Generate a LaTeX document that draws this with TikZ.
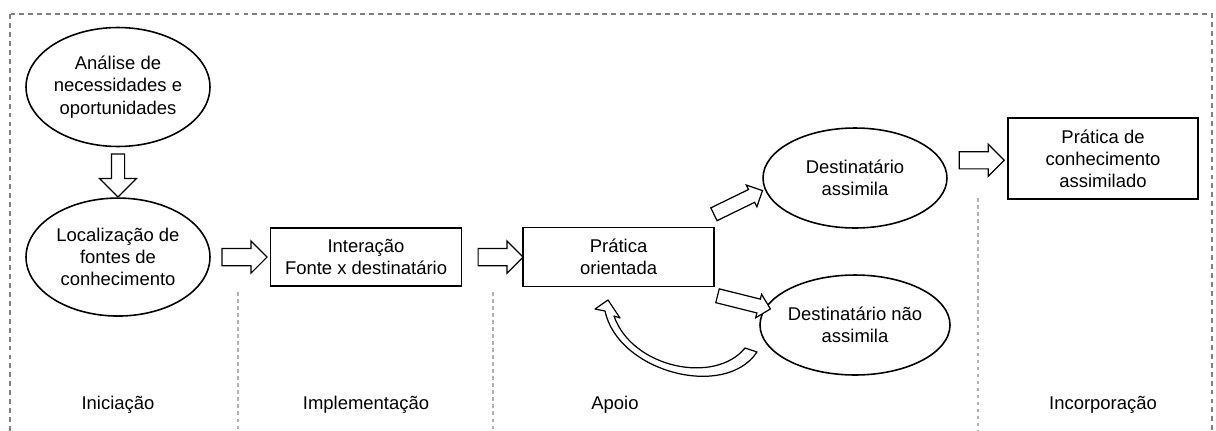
\documentclass[tikz,border=0pt]{standalone}
\usepackage{fontspec}
\setmainfont{Liberation Sans}
\usetikzlibrary{positioning,calc,shapes.geometric,shapes.arrows}

\begin{document}
\begin{tikzpicture}[x=0.02cm, y=-0.02cm, node distance=1cm,
    every node/.style={font=\fontsize{10.5pt}{12.6pt}\selectfont, align=center},
    stage/.style={draw, ellipse, line width=0.9pt, inner sep=0pt, minimum width=3.68cm},
    task/.style={draw, rectangle, line width=0.9pt, minimum width=3.82cm},
    blockarr/.style={draw, fill=white, single arrow, line width=0.7pt, inner sep=0.16cm,
      minimum height=0.9cm, single arrow head extend=0.15cm},
    sep/.style={draw=black!30, dash pattern=on 2pt off 2pt, line width=0.6pt}]
    \useasboundingbox (0,0) rectangle (1216,430);
    % outer frame
    \draw[draw=black!50, dash pattern=on 2.8pt off 2.3pt, line width=0.75pt] (10,14) rectangle (1212,450);

    \node[stage, minimum height=2.38cm] (analise) at (118,87) {An\'alise de\\necessidades e\\oportunidades};
    \node[stage, minimum height=2.36cm, below=1cm of analise] (local) {Localiza\c{c}\~ao de\\fontes de\\conhecimento};
    \node[task, minimum height=1.16cm, right=1.18cm of local] (interacao) {Intera\c{c}\~ao\\Fonte x destinat\'ario};
    \node[task, minimum height=1.18cm, right=1.2cm of interacao] (pratica) {Pr\'atica\\orientada};
    \node[stage, minimum height=2cm] (assimila) at (855,178) {Destinat\'ario\\assimila};
    \node[stage, minimum height=2cm] (naoassim) at (855,325) {Destinat\'ario n\~ao\\assimila};
    \node[task, minimum width=3.8cm, minimum height=1.62cm] (conhec) at (1103,158.5) {Pr\'atica de\\conhecimento\\assimilado};

    % block arrows
    \node[blockarr, rotate=-90, inner sep=0.12cm, minimum height=0.86cm, single arrow head extend=0.24cm]
      (a1) at ($(analise.south)!0.5!(local.north)$) {};
    \node[blockarr] (a2) at ($(local.east)!0.5!(interacao.west)$) {};
    \node[blockarr, xshift=0.08cm] (a3) at ($(interacao.east)!0.5!(pratica.west)$) {};
    \node[blockarr, yshift=0.16cm] (a6) at ($(assimila.east)!0.5!(conhec.west)$) {};
    \node[blockarr, rotate=26, inner sep=0.13cm, minimum height=1.08cm, single arrow head extend=0.1cm] (a4) at (735,204) {};
    \node[blockarr, rotate=-14, inner sep=0.13cm, minimum height=1.09cm, single arrow head extend=0.1cm] (a5) at (740.5,301.5) {};

    % curved return arrow
    \draw[line width=0.7pt, line join=round, fill=white] (757,352) -- (745,348)
      .. controls (715,385) and (632,368) .. (614,316) -- (620,318) -- (608,300) -- (595,309) -- (605,311)
      .. controls (618,372) and (725,400) .. (757,352) -- cycle;

    % phase separators
    \draw[sep] (238,292) -- (238,432);
    \draw[sep] (493,292) -- (493,432);
    \draw[sep] (978,198) -- (978,432);

    \node (iniciacao) at (118,405) {Inicia\c{c}\~ao};
    \node (implement) at (366,405) {Implementa\c{c}\~ao};
    \node (apoio) at (615,405) {Apoio};
    \node (incorp) at (1103,405) {Incorpora\c{c}\~ao};
\end{tikzpicture}
\end{document}
